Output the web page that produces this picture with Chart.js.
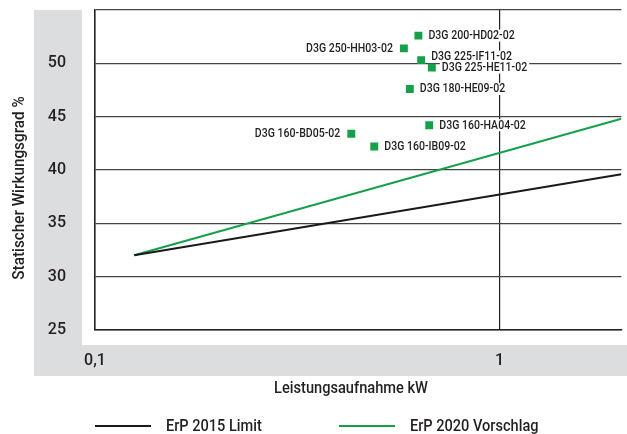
<!DOCTYPE html>
<html>
<head>
<meta charset="utf-8">
<script src="https://cdn.jsdelivr.net/npm/chart.js@4.4.1/dist/chart.umd.min.js"></script>
<style>
  body { margin: 0; background: #fff; }
  #wrap { width: 627px; height: 434px; }
</style>
</head>
<body>
<div id="wrap"><canvas id="chart" width="627" height="434"></canvas></div>
<script>
// fans: power (kW) and static efficiency (%)
const fanNames = ['D3G 200-HD02-02', 'D3G 250-HH03-02', 'D3G 225-IF11-02', 'D3G 225-HE11-02',
    'D3G 180-HE09-02', 'D3G 160-HA04-02', 'D3G 160-BD05-02', 'D3G 160-IB09-02'];
const fanPower = [0.63, 0.58, 0.64, 0.68, 0.60, 0.67, 0.43, 0.49];
const fanEff = [52.6, 51.4, 50.3, 49.6, 47.6, 44.2, 43.4, 42.2];

// limit lines
const limitPower = [0.125, 2];
const erp2015 = [32, 39.6];
const erp2020 = [32, 44.8];
const seriesNames = ['ErP 2015 Limit', 'ErP 2020 Vorschlag'];

// axes
const xTicks = [0.1, 1];
const xTickLabels = ['0,1', '1'];
const yTicks = [25, 30, 35, 40, 45, 50];
const xTitle = 'Leistungsaufnahme kW';
const yTitle = 'Statischer Wirkungsgrad %';

const FONT = 'Roboto, "Liberation Sans", sans-serif';
const TEXT = '#231f20';
const GREEN = '#16a04a';

// label placement tweaks (left of the square / nudged up to avoid overlap)
const leftLabelled = ['D3G 250-HH03-02', 'D3G 160-BD05-02'];
const labelNudge = {'D3G 225-IF11-02': -3.5};

const toXY = (xs, ys) => xs.map((x, i) => ({x: x, y: ys[i]}));

// draw text squeezed horizontally (the original uses a condensed face)
function narrowText(ctx, text, x, y, sx, align) {
    const w = ctx.measureText(text).width * sx;
    let left = x;
    if (align === 'center') left = x - w / 2;
    if (align === 'right') left = x - w;
    ctx.save();
    ctx.translate(left, y);
    ctx.scale(sx, 1);
    ctx.textAlign = 'left';
    ctx.fillText(text, 0, 0);
    ctx.restore();
    return w;
}

// grey bands behind the tick labels + axis titles
const bandPlugin = {
    id: 'bands',
    beforeDraw(chart) {
        const {ctx, chartArea: a} = chart;
        ctx.save();
        ctx.fillStyle = '#dcddde';
        ctx.fillRect(a.left - 61, a.top, 48, a.bottom - a.top + 46);
        ctx.fillRect(a.left - 13, a.bottom + 15, chart.width - a.left + 13, 31);

        ctx.fillStyle = TEXT;
        ctx.font = '500 17px ' + FONT;
        ctx.textBaseline = 'middle';
        narrowText(ctx, xTitle, 351, a.bottom + 59, 0.86, 'center');
        ctx.translate(20, 188);
        ctx.rotate(-Math.PI / 2);
        narrowText(ctx, yTitle, 0, 0, 0.9, 'center');
        ctx.restore();
    }
};

// fan names with white boxes (under the squares)
const labelPlugin = {
    id: 'fanLabels',
    beforeDatasetsDraw(chart) {
        const meta = chart.getDatasetMeta(2);
        const ctx = chart.ctx;
        const sx = 0.88;
        ctx.save();
        ctx.font = '500 12px ' + FONT;
        ctx.textBaseline = 'middle';
        const items = meta.data.map((pt, i) => {
            const name = fanNames[i];
            const w = ctx.measureText(name).width * sx;
            const x = leftLabelled.includes(name) ? pt.x - 11 - w : pt.x + 10;
            return {name, x, y: pt.y + (labelNudge[name] || 0), w};
        });
        ctx.fillStyle = '#fff';
        items.forEach(it => ctx.fillRect(it.x - 2, it.y - 6, it.w + 4, 12));
        ctx.fillStyle = TEXT;
        items.forEach(it => narrowText(ctx, it.name, it.x, it.y + 0.5, sx, 'left'));
        ctx.restore();
    }
};

const legendPlugin = {
    id: 'bottomLegend',
    afterDraw(chart) {
        const ctx = chart.ctx;
        const starts = [95, 339];
        const y = 426;
        ctx.save();
        ctx.font = '500 16px ' + FONT;
        ctx.textBaseline = 'middle';
        seriesNames.forEach((name, i) => {
            const ds = chart.data.datasets[i];
            ctx.strokeStyle = ds.borderColor;
            ctx.lineWidth = 2;
            ctx.beginPath();
            ctx.moveTo(starts[i], y);
            ctx.lineTo(starts[i] + 56, y);
            ctx.stroke();
            ctx.fillStyle = TEXT;
            narrowText(ctx, name, starts[i] + 71, y + 0.5, 0.91, 'left');
        });
        ctx.restore();
    }
};

const ctx = document.getElementById('chart').getContext('2d');
new Chart(ctx, {
    type: 'scatter',
    data: {
        datasets: [{
            label: seriesNames[0],
            data: toXY(limitPower, erp2015),
            showLine: true,
            borderColor: '#1a1a1a',
            borderWidth: 2,
            pointRadius: 0
        }, {
            label: seriesNames[1],
            data: toXY(limitPower, erp2020),
            showLine: true,
            borderColor: GREEN,
            borderWidth: 2,
            pointRadius: 0
        }, {
            label: 'Ventilatoren',
            data: toXY(fanPower, fanEff),
            pointStyle: 'rect',
            pointRadius: 5.6,
            pointBorderWidth: 0,
            backgroundColor: GREEN,
            borderColor: GREEN
        }]
    },
    options: {
        responsive: false,
        animation: false,
        events: [],
        layout: {padding: {top: 10, left: 0, right: 0, bottom: 0}},
        plugins: {legend: {display: false}, tooltip: {enabled: false}},
        scales: {
            x: {
                type: 'logarithmic',
                min: 0.1,
                max: 2,
                afterBuildTicks: axis => { axis.ticks = xTicks.map(v => ({value: v})); },
                afterFit: axis => {
                    axis.height = 104;
                    axis.paddingLeft = 0;
                    axis.paddingRight = 0;
                },
                ticks: {
                    autoSkip: false,
                    maxRotation: 0,
                    padding: 21,
                    color: TEXT,
                    font: {family: FONT, size: 16, weight: 500},
                    callback: v => xTickLabels[xTicks.indexOf(v)]
                },
                grid: {drawTicks: false, color: '#222', lineWidth: 1.2},
                border: {color: '#222', width: 1.5}
            },
            y: {
                min: 25,
                max: 55,
                afterFit: axis => {
                    axis.width = 95;
                    axis.paddingTop = 0;
                    axis.paddingBottom = 0;
                },
                ticks: {
                    stepSize: 5,
                    padding: 29,
                    color: TEXT,
                    font: {family: FONT, size: 16, weight: 500},
                    callback: v => yTicks.includes(v) ? v : ''
                },
                grid: {drawTicks: false, color: '#444', lineWidth: 1.2},
                border: {color: '#222', width: 1.5}
            }
        }
    },
    plugins: [bandPlugin, labelPlugin, legendPlugin]
});
</script>
</body>
</html>
